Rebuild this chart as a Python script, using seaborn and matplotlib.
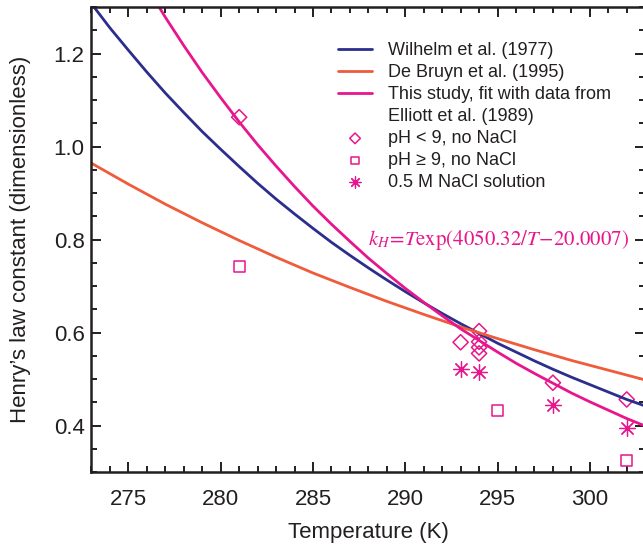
import seaborn as sns
import matplotlib.pyplot as plt
from matplotlib.lines import Line2D
from matplotlib.ticker import MultipleLocator

# values
wil_T = [273, 274, 275, 276, 277, 278, 279, 280, 281, 282, 283, 284, 285, 286, 287, 288,
         289, 290, 291, 292, 293, 294, 295, 296, 297, 298, 299, 300, 301, 302, 303]
wil_k = [1.307, 1.255, 1.207, 1.160, 1.115, 1.073, 1.032, 0.994, 0.957, 0.921, 0.887, 0.855,
         0.824, 0.794, 0.766, 0.739, 0.713, 0.688, 0.664, 0.641, 0.619, 0.598, 0.577, 0.558,
         0.539, 0.521, 0.504, 0.488, 0.472, 0.456, 0.442]

bru_T = [273, 275, 277, 279, 281, 283, 285, 287, 289, 291, 293, 295, 297, 299, 301, 303]
bru_k = [0.964, 0.919, 0.876, 0.836, 0.798, 0.762, 0.728, 0.697, 0.667, 0.639, 0.612, 0.587,
         0.563, 0.540, 0.519, 0.498]

fit_T = [276, 277, 278, 279, 280, 281, 282, 283, 284, 285, 286, 287, 288, 289, 290, 291,
         292, 293, 294, 295, 296, 297, 298, 299, 300, 301, 302, 303]
fit_k = [1.343, 1.278, 1.217, 1.159, 1.105, 1.053, 1.004, 0.958, 0.914, 0.872, 0.833, 0.796,
         0.760, 0.727, 0.695, 0.665, 0.636, 0.608, 0.583, 0.558, 0.534, 0.512, 0.491, 0.470,
         0.451, 0.433, 0.415, 0.399]

dia_T = [281, 293, 294, 294, 294, 294, 298, 302]
dia_k = [1.063, 0.579, 0.603, 0.580, 0.568, 0.555, 0.492, 0.456]
sq_T = [281, 295, 302]
sq_k = [0.741, 0.433, 0.324]
ast_T = [293, 294, 298, 302]
ast_k = [0.521, 0.516, 0.444, 0.395]

blue = '#2b2e8c'
orange = '#ef5b3b'
pink = '#e8168c'
ink = '#231f20'

sns.set_style('ticks')
plt.rcParams['font.family'] = ['Liberation Sans', 'DejaVu Sans']
plt.rcParams['mathtext.fontset'] = 'stix'

fig = plt.figure(figsize=(6.43, 5.47), dpi=100)
ax = fig.add_axes([0.1423, 0.1371, 0.8611, 0.8501])

sns.lineplot(x=wil_T, y=wil_k, color=blue, lw=2.0, ax=ax, label='Wilhelm et al. (1977)')
sns.lineplot(x=bru_T, y=bru_k, color=orange, lw=2.0, ax=ax, label='De Bruyn et al. (1995)')
sns.lineplot(x=fit_T, y=fit_k, color=pink, lw=2.0, ax=ax,
             label='This study, fit with data from')

sns.scatterplot(x=dia_T, y=dia_k, marker='D', s=60, facecolors='none', edgecolor=pink,
                linewidth=1.1, ax=ax, label='pH < 9, no NaCl')
sns.scatterplot(x=sq_T, y=sq_k, marker='s', s=62, facecolors='none', edgecolor=pink,
                linewidth=1.1, ax=ax, label='pH \u2265 9, no NaCl')
sns.scatterplot(x=ast_T, y=ast_k, marker=(8, 2, 0), s=130, color=pink, edgecolor=pink,
                linewidth=0.9, ax=ax, label='0.5 M NaCl solution')
sns.scatterplot(x=ast_T, y=ast_k, marker='o', s=10, color=pink, edgecolor=pink,
                linewidth=0, ax=ax)

ax.text(288.0, 0.800, r'$k_H\!=\!T\mathrm{exp}(4050.32/T\!-\!20.0007)$', color=pink,
        fontsize=15, ha='left', va='center')

ax.set_xlim(273, 303)
ax.set_ylim(0.3, 1.3)
ax.xaxis.set_major_locator(MultipleLocator(5))
ax.xaxis.set_minor_locator(MultipleLocator(1))
ax.yaxis.set_major_locator(MultipleLocator(0.2))
ax.yaxis.set_minor_locator(MultipleLocator(0.05))
ax.tick_params(which='both', direction='in', top=True, right=True, colors=ink,
               labelsize=16, width=1.4)
ax.tick_params(which='major', length=7)
ax.tick_params(which='minor', length=4.5)
ax.tick_params(axis='x', which='major', pad=12)
ax.tick_params(axis='y', which='major', pad=5)
for sp in ax.spines.values():
    sp.set_linewidth(1.8)
    sp.set_color(ink)
    sp.set_visible(True)

ax.set_xlabel('Temperature (K)', fontsize=16, color=ink, labelpad=9)
ax.set_ylabel('Henry\u2019s law constant (dimensionless)', fontsize=16, color=ink, labelpad=16)

# second line of the fit label as its own row with a blank handle
handles, labels = ax.get_legend_handles_labels()
handles.insert(3, Line2D([], [], linestyle='none'))
labels.insert(3, 'Elliott et al. (1989)')
leg = ax.legend(handles, labels, loc='upper left', bbox_to_anchor=(0.445, 0.925),
                frameon=False, fontsize=13, handlelength=1.9, handletextpad=0.88,
                labelspacing=0.28, borderpad=0, borderaxespad=0, markerscale=0.7)
for t in leg.get_texts():
    t.set_color(ink)

fig.savefig('out.png', dpi=100)
